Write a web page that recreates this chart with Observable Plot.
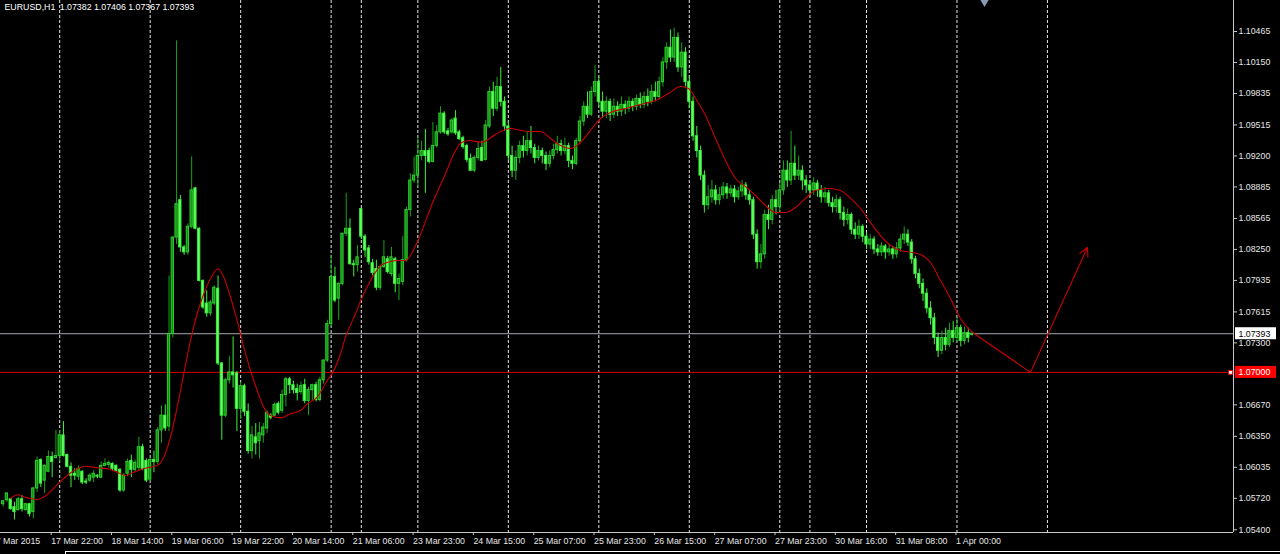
<!DOCTYPE html>
<html><head><meta charset="utf-8">
<script src="https://cdn.jsdelivr.net/npm/d3@7"></script>
<script src="https://cdn.jsdelivr.net/npm/@observablehq/plot@0.6"></script>
<style>
html,body{margin:0;padding:0;background:#000;overflow:hidden}
#wrap{position:relative;width:1280px;height:554px;background:#000}
#border{position:absolute;left:65px;top:551px;width:1215px;height:3px;border-top:1px solid #fff;border-left:1px solid #fff;box-sizing:border-box}
</style></head><body><div id="wrap"><div id="chart"></div><div id="border"></div></div>
<script>
const symbol = "EURUSD,H1";
const lastBar = [1.07382, 1.07406, 1.07367, 1.07393];

const opens = [
1.0566,1.0570,1.0571,1.0563,1.0560,1.0571,1.0560,1.0566,1.0558,1.0582,
1.0611,1.0590,1.0599,1.0614,1.0613,1.0615,1.0636,1.0616,1.0604,1.0597,
1.0594,1.0599,1.0589,1.0590,1.0593,1.0595,1.0593,1.0605,1.0606,1.0607,
1.0605,1.0601,1.0580,1.0597,1.0610,1.0601,1.0603,1.0624,1.0610,1.0591,
1.0611,1.0609,1.0641,1.0656,1.0645,1.0739,1.0837,1.0875,1.0827,1.0822,
1.0848,1.0887,1.0846,1.0793,1.0770,1.0760,1.0770,1.0785,1.0709,1.0656,
1.0692,1.0700,1.0699,1.0663,1.0686,1.0660,1.0620,1.0634,1.0630,1.0636,
1.0643,1.0656,1.0656,1.0668,1.0661,1.0677,1.0693,1.0687,1.0683,1.0680,
1.0687,1.0671,1.0682,1.0687,1.0672,1.0692,1.0712,1.0749,1.0797,1.0775,
1.0790,1.0841,1.0846,1.0810,1.0809,1.0866,1.0838,1.0826,1.0811,1.0805,
1.0786,1.0807,1.0815,1.0800,1.0815,1.0790,1.0792,1.0814,1.0865,1.0895,
1.0900,1.0920,1.0925,1.0925,1.0914,1.0930,1.0944,1.0963,1.0945,1.0944,
1.0958,1.0944,1.0938,1.0930,1.0917,1.0905,1.0918,1.0928,1.0916,1.0950,
1.0985,1.0968,1.0990,1.0975,1.0950,1.0920,1.0905,1.0918,1.0930,1.0925,
1.0935,1.0928,1.0918,1.0925,1.0920,1.0912,1.0920,1.0926,1.0932,1.0925,
1.0930,1.0915,1.0912,1.0935,1.0955,1.0970,1.0962,1.0985,1.0995,1.0975,
1.0965,1.0975,1.0962,1.0970,1.0965,1.0972,1.0968,1.0975,1.0970,1.0978,
1.0972,1.0980,1.0975,1.0985,1.0980,1.0995,1.1015,1.1030,1.1020,1.1040,
1.1010,1.1025,1.0995,1.0975,1.0940,1.0925,1.0900,1.0870,1.0878,1.0885,
1.0875,1.0880,1.0888,1.0882,1.0886,1.0878,1.0884,1.0890,1.0880,1.0875,
1.0840,1.0812,1.0820,1.0860,1.0855,1.0875,1.0868,1.0885,1.0905,1.0895,
1.0912,1.0900,1.0905,1.0895,1.0890,1.0885,1.0892,1.0885,1.0878,1.0882,
1.0872,1.0868,1.0875,1.0862,1.0855,1.0860,1.0845,1.0840,1.0848,1.0838,
1.0830,1.0835,1.0825,1.0822,1.0828,1.0822,1.0825,1.0820,1.0826,1.0835,
1.0840,1.0832,1.0815,1.0800,1.0790,1.0780,1.0765,1.0755,1.0735,1.0722,
1.0735,1.0728,1.0742,1.0735,1.0745,1.0732,1.0740,1.07382];

const highs = [
1.0570,1.0577,1.0572,1.0568,1.0573,1.0575,1.0567,1.0567,1.0583,1.0614,
1.0612,1.0606,1.0620,1.0619,1.0641,1.0641,1.0650,1.0617,1.0608,1.0602,
1.0605,1.0600,1.0592,1.0597,1.0600,1.0596,1.0609,1.0612,1.0610,1.0608,
1.0606,1.0602,1.0597,1.0612,1.0616,1.0611,1.0634,1.0627,1.0612,1.0613,
1.0620,1.0644,1.0666,1.0667,1.0798,1.0838,1.1037,1.0880,1.0829,1.0851,
1.0919,1.0888,1.0847,1.0794,1.0783,1.0773,1.0788,1.0798,1.0710,1.0694,
1.0716,1.0736,1.0701,1.0690,1.0688,1.0668,1.0645,1.0648,1.0649,1.0648,
1.0661,1.0658,1.0669,1.0670,1.0682,1.0695,1.0695,1.0691,1.0688,1.0690,
1.0693,1.0685,1.0688,1.0690,1.0695,1.0713,1.0753,1.0819,1.0807,1.0791,
1.0841,1.0882,1.0856,1.0814,1.0829,1.0867,1.0840,1.0829,1.0815,1.0814,
1.0809,1.0834,1.0818,1.0827,1.0817,1.0800,1.0838,1.0868,1.0902,1.0919,
1.0939,1.0935,1.0947,1.0928,1.0954,1.0951,1.0970,1.0965,1.0948,1.0958,
1.0966,1.0946,1.0940,1.0932,1.0922,1.0920,1.0934,1.0935,1.0956,1.0990,
1.0995,1.1000,1.1010,1.0980,1.0955,1.0930,1.0925,1.0935,1.0940,1.0945,
1.0950,1.0932,1.0930,1.0928,1.0924,1.0925,1.0932,1.0940,1.0936,1.0938,
1.0933,1.0920,1.0938,1.0960,1.0975,1.0985,1.0990,1.1012,1.1000,1.0985,
1.0980,1.0978,1.0978,1.0975,1.0980,1.0976,1.0980,1.0978,1.0982,1.0984,
1.0985,1.0988,1.0992,1.0995,1.1000,1.1020,1.1035,1.1048,1.1050,1.1045,
1.1035,1.1030,1.1000,1.0980,1.0950,1.0930,1.0905,1.0890,1.0895,1.0890,
1.0888,1.0893,1.0892,1.0890,1.0890,1.0888,1.0895,1.0893,1.0885,1.0878,
1.0845,1.0830,1.0865,1.0870,1.0880,1.0885,1.0892,1.0915,1.0915,1.0945,
1.0930,1.0920,1.0910,1.0900,1.0895,1.0898,1.0895,1.0890,1.0888,1.0885,
1.0878,1.0880,1.0878,1.0868,1.0866,1.0862,1.0852,1.0855,1.0850,1.0842,
1.0840,1.0838,1.0830,1.0832,1.0830,1.0830,1.0828,1.0832,1.0840,1.0848,
1.0845,1.0835,1.0818,1.0805,1.0795,1.0785,1.0772,1.0760,1.0740,1.0742,
1.0745,1.0750,1.0752,1.0755,1.0748,1.0746,1.0745,1.07406];

const lows = [
1.0563,1.0568,1.0560,1.0550,1.0559,1.0558,1.0559,1.0553,1.0551,1.0578,
1.0583,1.0577,1.0598,1.0593,1.0612,1.0609,1.0614,1.0603,1.0583,1.0590,
1.0590,1.0586,1.0586,1.0588,1.0588,1.0592,1.0592,1.0604,1.0603,1.0600,
1.0599,1.0578,1.0578,1.0594,1.0593,1.0599,1.0600,1.0600,1.0588,1.0589,
1.0598,1.0606,1.0628,1.0640,1.0640,1.0735,1.0830,1.0822,1.0819,1.0819,
1.0846,1.0845,1.0792,1.0764,1.0756,1.0757,1.0768,1.0707,1.0631,1.0654,
1.0688,1.0684,1.0640,1.0652,1.0655,1.0617,1.0612,1.0616,1.0612,1.0628,
1.0638,1.0652,1.0655,1.0657,1.0658,1.0665,1.0678,1.0678,1.0671,1.0677,
1.0668,1.0656,1.0671,1.0670,1.0670,1.0688,1.0710,1.0746,1.0771,1.0753,
1.0788,1.0838,1.0809,1.0797,1.0802,1.0835,1.0817,1.0809,1.0798,1.0783,
1.0783,1.0806,1.0800,1.0797,1.0781,1.0773,1.0788,1.0812,1.0858,1.0892,
1.0888,1.0915,1.0882,1.0912,1.0913,1.0928,1.0942,1.0942,1.0940,1.0942,
1.0941,1.0936,1.0927,1.0913,1.0904,1.0903,1.0915,1.0914,1.0915,1.0948,
1.0960,1.0965,1.0970,1.0945,1.0915,1.0898,1.0895,1.0912,1.0918,1.0920,
1.0922,1.0912,1.0915,1.0912,1.0905,1.0908,1.0916,1.0922,1.0920,1.0921,
1.0908,1.0906,1.0910,1.0932,1.0950,1.0958,1.0960,1.0980,1.0970,1.0958,
1.0958,1.0955,1.0958,1.0960,1.0960,1.0962,1.0964,1.0965,1.0966,1.0968,
1.0968,1.0970,1.0972,1.0975,1.0978,1.0990,1.1008,1.1015,1.1015,1.1005,
1.1000,1.0990,1.0968,1.0935,1.0918,1.0895,1.0862,1.0865,1.0872,1.0870,
1.0870,1.0876,1.0876,1.0878,1.0872,1.0875,1.0878,1.0875,1.0870,1.0835,
1.0805,1.0805,1.0815,1.0845,1.0850,1.0860,1.0862,1.0880,1.0888,1.0890,
1.0895,1.0895,1.0885,1.0882,1.0878,1.0880,1.0878,1.0872,1.0872,1.0868,
1.0862,1.0862,1.0855,1.0848,1.0850,1.0840,1.0835,1.0835,1.0832,1.0825,
1.0825,1.0820,1.0818,1.0818,1.0815,1.0818,1.0815,1.0816,1.0822,1.0830,
1.0828,1.0810,1.0795,1.0785,1.0772,1.0760,1.0748,1.0728,1.0715,1.0718,
1.0722,1.0725,1.0730,1.0730,1.0726,1.0728,1.0730,1.07367];

const closes = [
1.0569,1.0577,1.0561,1.0558,1.0571,1.0561,1.0566,1.0556,1.0582,1.0610,
1.0587,1.0605,1.0614,1.0609,1.0615,1.0636,1.0615,1.0604,1.0595,1.0595,
1.0602,1.0588,1.0588,1.0595,1.0597,1.0594,1.0605,1.0607,1.0608,1.0602,
1.0600,1.0580,1.0595,1.0609,1.0601,1.0608,1.0624,1.0602,1.0590,1.0611,
1.0609,1.0641,1.0656,1.0643,1.0739,1.0837,1.0871,1.0827,1.0822,1.0848,
1.0885,1.0846,1.0793,1.0766,1.0760,1.0771,1.0786,1.0709,1.0656,1.0692,
1.0700,1.0697,1.0663,1.0686,1.0660,1.0620,1.0636,1.0628,1.0638,1.0644,
1.0659,1.0654,1.0667,1.0659,1.0677,1.0693,1.0687,1.0682,1.0679,1.0686,
1.0671,1.0682,1.0687,1.0672,1.0692,1.0712,1.0749,1.0797,1.0773,1.0790,
1.0841,1.0846,1.0810,1.0809,1.0817,1.0838,1.0824,1.0812,1.0801,1.0786,
1.0807,1.0817,1.0802,1.0817,1.0790,1.0795,1.0814,1.0865,1.0895,1.0900,
1.0920,1.0925,1.0920,1.0914,1.0930,1.0944,1.0963,1.0944,1.0942,1.0956,
1.0943,1.0937,1.0929,1.0916,1.0905,1.0918,1.0927,1.0915,1.0951,1.0985,
1.0968,1.0990,1.0975,1.0950,1.0920,1.0905,1.0918,1.0930,1.0925,1.0935,
1.0928,1.0918,1.0925,1.0920,1.0912,1.0920,1.0926,1.0932,1.0925,1.0930,
1.0915,1.0912,1.0935,1.0955,1.0970,1.0962,1.0985,1.0995,1.0975,1.0965,
1.0975,1.0962,1.0970,1.0965,1.0972,1.0968,1.0975,1.0970,1.0978,1.0972,
1.0980,1.0975,1.0985,1.0980,1.0995,1.1015,1.1030,1.1020,1.1040,1.1010,
1.1025,1.0995,1.0975,1.0940,1.0925,1.0900,1.0870,1.0878,1.0885,1.0875,
1.0880,1.0888,1.0882,1.0886,1.0878,1.0884,1.0890,1.0880,1.0875,1.0840,
1.0812,1.0820,1.0860,1.0855,1.0875,1.0868,1.0885,1.0905,1.0895,1.0912,
1.0900,1.0905,1.0895,1.0890,1.0885,1.0892,1.0885,1.0878,1.0882,1.0872,
1.0868,1.0875,1.0862,1.0855,1.0860,1.0845,1.0840,1.0848,1.0838,1.0830,
1.0835,1.0825,1.0822,1.0828,1.0822,1.0825,1.0820,1.0826,1.0835,1.0840,
1.0832,1.0815,1.0800,1.0790,1.0780,1.0765,1.0755,1.0735,1.0722,1.0735,
1.0728,1.0742,1.0735,1.0745,1.0732,1.0740,1.0735,1.07393];

// moving average (red line), read at bar positions
const maBar = [1.95,3.73,5.93,9.03,10.7,14.76,16.99,19.64,21.84,24.95,27.6,30.25,32.45,34.66,38.21,40.86,42.61,44.39,46.17,47.92,49.69,51.47,53.22,55.0,56.94,58.53,60.31,62.08,63.83,65.61,67.39,69.14,70.91,73.57,76.22,78.87,80.65,83.3,85.95,87.71,89.48,90.81,93.46,95.24,97.44,100.54,104.95,106.72,109.83,113.81,117.33,119.99,121.76,123.51,127.07,129.27,131.93,134.58,137.23,139.88,142.53,145.19,147.84,150.49,153.15,155.8,158.45,161.11,165.09,169.07,173.04,176.49,179.68,181.8,183.65,186.31,188.96,191.61,194.26,196.92,199.57,202.22,204.87,207.53,210.18,212.83,215.48,218.93,222.11,224.77,227.42,230.07,232.72,235.38,238.03,241.21,243.86,245.98,248.64,251.29,253.94,256.06,257.92];
const maValue = [1.05718,1.05756,1.05731,1.05708,1.05731,1.05874,1.05952,1.0602,1.06046,1.0603,1.0602,1.05985,1.05952,1.05985,1.0603,1.06053,1.06138,1.06341,1.06646,1.06986,1.07324,1.07596,1.07799,1.07951,1.08053,1.07967,1.07764,1.07527,1.07256,1.07019,1.06816,1.06646,1.06562,1.06538,1.06579,1.06612,1.0668,1.06748,1.06917,1.07019,1.07189,1.07358,1.07596,1.07764,1.07934,1.08097,1.08137,1.08137,1.08323,1.08714,1.09019,1.09256,1.0934,1.09357,1.0934,1.09385,1.09449,1.09479,1.09459,1.09449,1.09449,1.09377,1.09306,1.09276,1.09337,1.09459,1.09581,1.09642,1.09682,1.09723,1.09764,1.09835,1.09906,1.09886,1.09784,1.09611,1.09377,1.09154,1.08971,1.08889,1.08798,1.08696,1.08625,1.08625,1.08676,1.08768,1.08849,1.08869,1.08849,1.08768,1.08666,1.08523,1.08391,1.0829,1.08239,1.08219,1.08188,1.08117,1.07934,1.07751,1.07548,1.07446,1.07385];

const separatorBars = [15,39,63,87,95,110,134,158,182,206,214,229,253,277];
const timeTickBars = [-3,13,29,45,61,77,93,109,125,141,157,173,189,205,221,237,253];
const timeTickLabels = ["17 Mar 2015","17 Mar 22:00","18 Mar 14:00","19 Mar 06:00","19 Mar 22:00","20 Mar 14:00","21 Mar 06:00","23 Mar 23:00","24 Mar 15:00","25 Mar 07:00","25 Mar 23:00","26 Mar 15:00","27 Mar 07:00","27 Mar 23:00","30 Mar 16:00","31 Mar 08:00","1 Apr 00:00"];
const priceTicks = [1.10465,1.10150,1.09835,1.09515,1.09200,1.08885,1.08565,1.08250,1.07935,1.07615,1.07300,1.06670,1.06350,1.06035,1.05720,1.05400];
const bidPrice = 1.07393;
const levelPrice = 1.07000;
const arrowBars = [257.92, 272.5, 287.6];
const arrowPrices = [1.07385, 1.07000, 1.08269];
const shiftBar = 260.3;

// ---- layout ----
const W = 1280, H = 554, mR = 47, mB = 22;
const xDomain = [-0.703, 326.35];
const yDomain = [1.053726, 1.107801];
const barPx = (W - mR) / (xDomain[1] - xDomain[0]);
const pricePx = (H - mB) / (yDomain[1] - yDomain[0]);

const candles = opens.map((o, i) => ({i, o, h: highs[i], l: lows[i], c: closes[i]}));
const bulls = candles.filter(d => d.c >= d.o);
const bears = candles.filter(d => d.c < d.o);
const ma = maBar.map((b, k) => ({b, v: maValue[k]}));
const arrowPts = arrowBars.map((b, k) => ({b, v: arrowPrices[k]}));

const bodyHalf = 0.3;
const boxL = xDomain[1] + 2 / barPx, boxR = xDomain[1] + 43 / barPx, boxH = 6 / pricePx;

const plot = Plot.plot({
  width: W, height: H,
  marginTop: 0, marginLeft: 0, marginRight: mR, marginBottom: mB,
  style: {background: "#000", color: "#e6e6e6", fontFamily: "'Liberation Sans', Arial, sans-serif", fontSize: "8.8px"},
  x: {domain: xDomain, axis: null},
  y: {domain: yDomain, axis: null},
  marks: [
    Plot.ruleX(separatorBars, {stroke: "#ffffff", strokeDasharray: "3,2", strokeOpacity: 0.9}),
    Plot.ruleY([bidPrice], {stroke: "#a8a8b4"}),
    Plot.ruleY([levelPrice], {stroke: "#d40000"}),
    Plot.ruleX(bulls, {x: "i", y1: "l", y2: "h", stroke: "#17a317"}),
    Plot.ruleX(bears, {x: "i", y1: "l", y2: "h", stroke: "#3ef03e"}),
    Plot.rect(bulls, {x1: d => d.i - bodyHalf, x2: d => d.i + bodyHalf, y1: "o", y2: "c", fill: "#0f8c0f", stroke: "#2fcf2f", strokeWidth: 1}),
    Plot.rect(bears, {x1: d => d.i - bodyHalf, x2: d => d.i + bodyHalf, y1: "c", y2: "o", fill: "#66ff66", stroke: "#3cf03c", strokeWidth: 1}),
    Plot.line(ma, {x: "b", y: "v", stroke: "#c80000", strokeWidth: 1.1, curve: "monotone-x"}),
    Plot.line(arrowPts.slice(0, 2), {x: "b", y: "v", stroke: "#d00000", strokeWidth: 1.1}),
    Plot.arrow([arrowPts], {x1: d => d[1].b, y1: d => d[1].v, x2: d => d[2].b, y2: d => d[2].v, stroke: "#d00000", strokeWidth: 1.1, headLength: 13, headAngle: 55}),
    // axes
    Plot.ruleX([xDomain[1]], {stroke: "#c8c8c8"}),
    Plot.ruleY([yDomain[0]], {stroke: "#c8c8c8"}),
    Plot.axisY(priceTicks, {anchor: "right", tickSize: 3, tickPadding: 2, tickFormat: d => d.toFixed(5), stroke: "#c8c8c8", fill: "#e6e6e6"}),
    Plot.axisX(timeTickBars, {anchor: "bottom", tickSize: 3, tickPadding: 2, textAnchor: "start", dx: -1, tickFormat: d => timeTickLabels[timeTickBars.indexOf(d)], stroke: "#c8c8c8", fill: "#e6e6e6"}),
    // level labels
    Plot.rect([bidPrice], {x1: boxL, x2: boxR, y1: d => d - boxH, y2: d => d + boxH, fill: "#ffffff"}),
    Plot.text([bidPrice], {x: xDomain[1], y: d => d, dx: 5, textAnchor: "start", text: d => d.toFixed(5), fill: "#000"}),
    Plot.rect([levelPrice], {x1: boxL, x2: boxR, y1: d => d - boxH, y2: d => d + boxH, fill: "#ff0000"}),
    Plot.text([levelPrice], {x: xDomain[1], y: d => d, dx: 5, textAnchor: "start", text: d => d.toFixed(5), fill: "#ffffff"}),
    Plot.dot([levelPrice], {x: xDomain[1], y: d => d, dx: -3, symbol: "square", r: 2.2, fill: "#ffffff", stroke: "#ff0000", strokeWidth: 1}),
    Plot.dot([shiftBar], {x: d => d, y: yDomain[1], dy: 1, symbol: "triangle", rotate: 180, r: 3.6, fill: "#8a9cb4"}),
    // header
    Plot.text([`${symbol}\u2002${lastBar.map(v => v.toFixed(5)).join(" ")}`], {frameAnchor: "top-left", dx: 4, dy: 3, lineAnchor: "top", textAnchor: "start", fill: "#ffffff", text: d => d})
  ]
});
document.getElementById("chart").appendChild(plot);
</script>
</body></html>
